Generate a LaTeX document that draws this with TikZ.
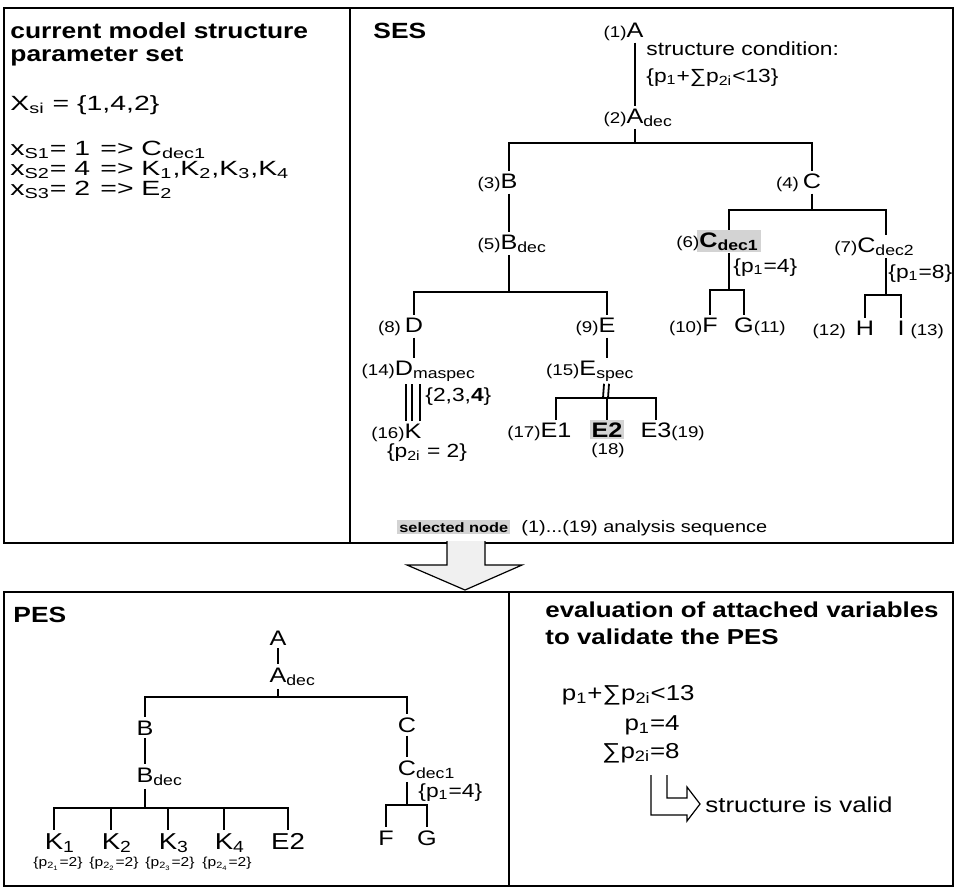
\documentclass[tikz,border=0pt]{standalone}
\usepackage{fontspec}
\setmainfont{Liberation Sans}[FakeStretch=1.2]
\newfontfamily\ancho{Liberation Sans}[FakeStretch=1.38]
\usetikzlibrary{positioning,calc}
\definecolor{sombra}{RGB}{200,200,200}
\colorlet{halo}{sombra!80}
\newcommand{\nlab}[1]{{\mdseries\fontsize{7.8}{9}\selectfont(#1)}}
\newcommand{\sbs}[1]{\textsubscript{#1}}
\tikzset{
  marco/.style={draw,line width=1.1pt},
  rama/.style={line width=0.9pt},
  tit/.style={font=\fontsize{11}{11.5}\selectfont\bfseries,inner sep=0pt,align=left},
  nodo/.style={font=\fontsize{10.5}{12}\selectfont,inner sep=1pt,anchor=base},
  sel/.style={nodo,font=\fontsize{10.5}{12}\selectfont\bfseries,fill=halo},
  nota/.style={font=\fontsize{9.5}{11}\selectfont,inner sep=0pt,anchor=base west},
  txt/.style={font=\ancho\fontsize{10.3}{12}\selectfont,inner sep=0pt,anchor=base west},
  ev/.style={font=\fontsize{10.8}{13}\selectfont,inner sep=0pt},
}
\begin{document}
\begin{tikzpicture}[x=0.5pt,y=-0.5pt,
    pn/.style={nodo,inner sep=1.5pt},
    pk/.style={nodo,font=\fontsize{11.5}{13}\selectfont,inner sep=1.5pt},
    pp/.style={font=\fontsize{6.5}{7}\selectfont,inner sep=0pt,anchor=base}]
  \useasboundingbox (0,0) rectangle (956,891);
  \draw[marco] (4,8) rectangle (953,543);
  \draw[marco] (350,8) -- (350,543);
  \draw[marco] (4,592) rectangle (953,886);
  \draw[marco] (509,592) -- (509,886);
  \draw[line width=0.6pt,fill=gray!12] (447,541) -- (447,565) -- (407,565) -- (465,590)
    -- (522,565) -- (485,565) -- (485,541);

  \node[tit,anchor=north west] (tcur) at (10,22) {current model structure\\parameter set};
  \node[txt] (xsi) at (10,110) {X\sbs{si} = \{1,4,2\}};
  \node[txt] (xs1) at (10,155) {x\sbs{S1}= 1};
  \node[txt] (xs2) at (10,175) {x\sbs{S2}= 4};
  \node[txt] (xs3) at (10,195) {x\sbs{S3}= 2};
  \node[txt] (rs1) at (100,155) {=> C\sbs{dec1}};
  \node[txt] (rs2) at (100,175) {=> K\sbs{1},K\sbs{2},K\sbs{3},K\sbs{4}};
  \node[txt] (rs3) at (100,195) {=> E\sbs{2}};

  \node[tit,anchor=base west] (tses) at (373,38) {SES};
  \node[nodo] (A) at (635,37) {\llap{\nlab{1}}A};
  \node[nodo] (Adec) at (635,123) {\llap{\nlab{2}}A\rlap{\sbs{dec}}};
  \node[nodo] (B) at (509,188) {\llap{\nlab{3}}B};
  \node[nodo] (Bdec) at (509,249) {\llap{\nlab{5}}B\rlap{\sbs{dec}}};
  \node[nodo] (C) at (812,188) {\llap{\nlab{4}\hspace{2pt}}C};
  \node[sel] (Cd1) at (729,247) {\llap{\nlab{6}}C\sbs{dec1}};
  \node[nodo] (Cd2) at (886,252) {\llap{\nlab{7}}C\sbs{dec2}};
  \node[nodo] (D) at (414,332) {\llap{\nlab{8}\hspace{2pt}}D};
  \node[nodo] (Dm) at (404,375) {\llap{\nlab{14}}D\rlap{\sbs{maspec}}};
  \node[nodo] (K) at (413,438) {\llap{\nlab{16}}K};
  \node[nodo] (E) at (607,332) {\llap{\nlab{9}}E};
  \node[nodo] (Es) at (607,375) {\llap{\nlab{15}}E\sbs{spec}};
  \node[nodo] (E1) at (556,437) {\llap{\nlab{17}}E1};
  \node[sel] (E2) at (607,437) {E2};
  \node[nodo] (E3) at (656,437) {E3\rlap{\nlab{19}}};
  \node[nodo] (F) at (710,332) {\llap{\nlab{10}}F};
  \node[nodo] (G) at (744,332) {G\rlap{\nlab{11}}};
  \node[nodo] (H) at (865,335) {\llap{\nlab{12}\hspace{5pt}}H};
  \node[nodo] (I) at (901,335) {I\rlap{\hspace{3pt}\nlab{13}}};
  \node[nota] (cond) at (646,55) {structure condition:};
  \node[nota] (condf) at (646,82) {\{p\sbs{1}+∑p\sbs{2i}<13\}};
  \node[nota] (c1p) at (733,272) {\{p\sbs{1}=4\}};
  \node[nota] (c2p) at (888,278) {\{p\sbs{1}=8\}};
  \node[nota] (kset) at (425,401) {\{2,3,\textbf{4}\}};
  \node[nota,anchor=base] (kp) at (427,457) {\{p\sbs{2i} = 2\}};
  \node[nodo,inner sep=0pt] (n18) at (608,454) {\nlab{18}};
  \node[sel,font=\fontsize{6.8}{8}\selectfont\bfseries,anchor=base west] (leg) at (397,532) {selected node};
  \node[nota,font=\fontsize{8.3}{9}\selectfont] (seq) at (521,532) {(1)...(19) analysis sequence};

  \coordinate (jA) at (635,143);
  \coordinate (jB) at (509,292);
  \coordinate (jC) at (812,210);
  \coordinate (jC1) at (729,290);
  \coordinate (jC2) at (886,295);
  \coordinate (jE) at (606,398);
  \draw[rama] (A) -- (Adec);
  \draw[rama] (Adec) -- (jA) -| (B);
  \draw[rama] (jA) -| (C);
  \draw[rama] (B) -- (Bdec);
  \draw[rama] (Bdec) -- (jB) -| (D);
  \draw[rama] (jB) -| (E);
  \draw[rama] (C) -- (jC) -| (Cd1);
  \draw[rama] (jC) -| (Cd2);
  \draw[rama] (Cd1) -- (jC1);
  \foreach \n in {F,G} \draw[rama] (jC1) -| (\n);
  \draw[rama] (Cd2) -- (jC2);
  \foreach \n in {H,I} \draw[rama] (jC2) -| (\n);
  \draw[rama] (D) -- (D |- Dm.north);
  \foreach \dx in {-7,-1,7}
    \draw[rama] ($(K.north)+(\dx,0)$) -- ($(K.north |- Dm.south)+(\dx,0)$);
  \draw[rama] (E) -- (Es);
  \foreach \dx in {-3,2}
    \draw[rama] ($(Es.south)+(\dx,0)$) -- ($(jE)+(\dx,0)$);
  \foreach \n in {E1,E2,E3} \draw[rama] (jE) -| (\n);

  \node[tit,anchor=base west] (tpes) at (13,622) {PES};
  \node[pn] (pA) at (278,645) {A};
  \node[pn] (pAd) at (278,682) {A\rlap{\sbs{dec}}};
  \node[pn] (pB) at (145,735) {B};
  \node[pn] (pBd) at (145,782) {B\rlap{\sbs{dec}}};
  \node[pn] (pC) at (407,732) {C};
  \node[pn] (pCd) at (407,775) {C\rlap{\sbs{dec1}}};
  \node[nota] (pc1) at (418,797) {\{p\sbs{1}=4\}};
  \node[pn] (pF) at (386,845) {F};
  \node[pn] (pG) at (427,845) {G};
  \node[pk] (pK1) at (54,849) {K\rlap{\sbs{1}}};
  \node[pk] (pK2) at (111,849) {K\rlap{\sbs{2}}};
  \node[pk] (pK3) at (168,849) {K\rlap{\sbs{3}}};
  \node[pk] (pK4) at (224,849) {K\rlap{\sbs{4}}};
  \node[pk] (pE2) at (288,849) {E2};
  \foreach \i/\x in {1/58,2/114,3/170,4/227}
    \node[pp] (pp\i) at (\x,866) {\{p\sbs{2\sbs{\i}}=2\}};
  \coordinate (jP1) at (278,697);
  \coordinate (jP2) at (145,808);
  \coordinate (jP3) at (407,805);
  \draw[rama] (pA) -- (pAd);
  \draw[rama] (pAd) -- (jP1) -| (pB);
  \draw[rama] (jP1) -| (pC);
  \draw[rama] (pB) -- (pBd);
  \draw[rama] (pBd) -- (jP2);
  \foreach \n in {pK1,pK2,pK3,pK4,pE2} \draw[rama] (jP2) -| (\n);
  \draw[rama] (pC) -- (pCd);
  \draw[rama] (pCd) -- (jP3);
  \foreach \n in {pF,pG} \draw[rama] (jP3) -| (\n);

  \node[tit,anchor=north west,font=\fontsize{10.8}{13.5}\selectfont\bfseries] (tev) at (545,601)
    {evaluation of attached variables\\to validate the PES};
  \node[ev,anchor=base east] (ev1) at (695,700) {p\sbs{1}+∑p\sbs{2i}<13};
  \node[ev,anchor=base east] (ev2) at (680,730) {p\sbs{1}=4};
  \node[ev,anchor=base east] (ev3) at (680,758) {∑p\sbs{2i}=8};
  \node[ev,anchor=base west] (valid) at (705,812) {structure is valid};
  \draw[line width=0.6pt] (651,775) -- (651,815) -- (687,815) -- (687,821) -- (700,804)
    -- (687,787) -- (687,798) -- (667,798) -- (667,775);
\end{tikzpicture}
\end{document}
